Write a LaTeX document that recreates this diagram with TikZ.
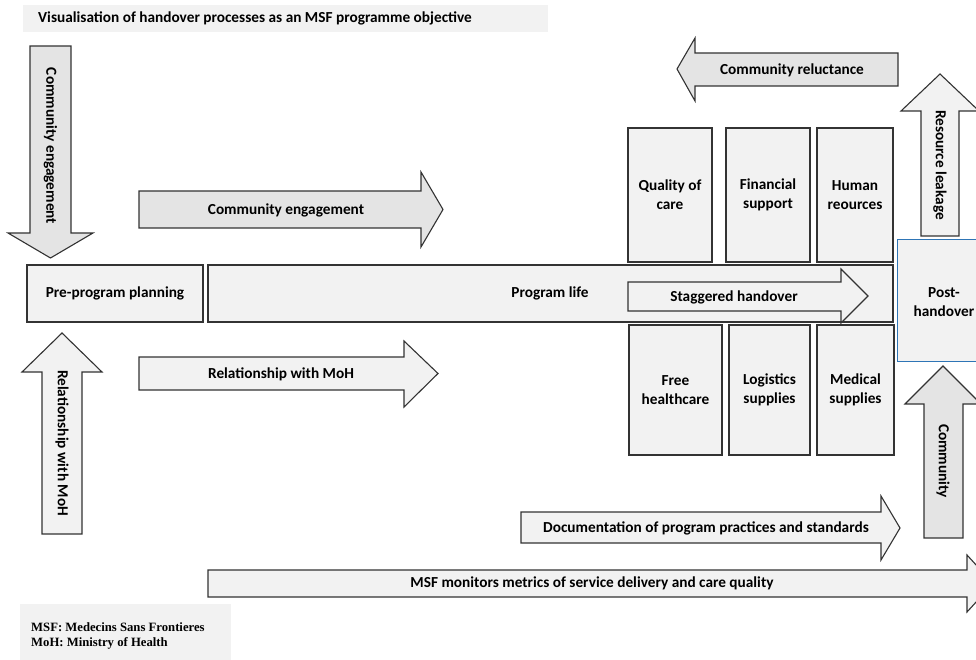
\documentclass[tikz,border=0pt]{standalone}
\usepackage{fontspec}
\setmainfont{Carlito}
\newfontfamily\legendfont{Liberation Serif}
\definecolor{lightfill}{HTML}{F2F2F2}
\definecolor{darkfill}{HTML}{E4E4E4}
\definecolor{edge}{HTML}{333333}
\definecolor{blueedge}{HTML}{2E75B6}
\tikzset{
  shp/.style={draw=edge, line width=1.1pt, line join=miter},
  lshp/.style={shp, fill=lightfill},
  dshp/.style={shp, fill=darkfill},
  lbl/.style={font=\bfseries\fontsize{15.3}{19}\selectfont, align=center, inner sep=0pt},
  boxnode/.style={lbl, lshp, inner sep=0pt},
}
\begin{document}
\begin{tikzpicture}[x=1pt,y=-1pt]
\useasboundingbox (0,0) rectangle (976,660);
\clip (0,0) rectangle (976,660);

% title
\fill[lightfill] (23,5) rectangle (548,32);
\node[lbl, anchor=west] (title) at (38,18.5) {Visualisation of handover processes as an MSF programme objective};

% vertical community engagement (down)
\draw[dshp] (30,46) -- (71,46) -- (71,233) -- (93,233) -- (50.5,258) -- (8,233) -- (30,233) -- cycle;
\node[lbl, rotate=-90] (ceV) at (50.5,146) {Community engagement};

% horizontal community engagement
\draw[dshp] (139,191) -- (421,191) -- (421,172) -- (443,209.5) -- (421,247) -- (421,228) -- (139,228) -- cycle;
\node[lbl] (ceH) at (286,210) {Community engagement};

% pre-program planning and program life
\node[boxnode, minimum width=176pt, minimum height=57pt] (pre) at (115,293.5) {Pre-program planning};
\node[lshp, minimum width=685pt, minimum height=57pt] (life) at (550.5,293.5) {};
\node[lbl] (lifetxt) at (550,293.5) {Program life};

% staggered handover
\draw[lshp] (628,282) -- (841,282) -- (841,269) -- (868,296) -- (841,323) -- (841,311) -- (628,311) -- cycle;
\node[lbl] (stag) at (734,297) {Staggered handover};

% upper boxes
\node[boxnode, minimum width=84pt, minimum height=134pt] (qoc) at (670,195) {Quality of\\care};
\node[boxnode, minimum width=84pt, minimum height=134pt] (fin) at (768,195) {Financial\\support};
\node[boxnode, minimum width=76pt, minimum height=134pt] (hr) at (855,195) {Human\\reources};

% lower boxes
\node[boxnode, minimum width=93pt, minimum height=130pt] (free) at (675.5,390) {Free\\healthcare};
\node[boxnode, minimum width=81pt, minimum height=130pt] (logi) at (769.5,390) {Logistics\\supplies};
\node[boxnode, minimum width=77pt, minimum height=130pt] (med) at (855.5,390) {Medical\\supplies};

% community reluctance (left)
\draw[dshp] (898,53) -- (695,53) -- (695,38) -- (677,69) -- (695,101) -- (695,86) -- (898,86) -- cycle;
\node[lbl] (reluct) at (792,70) {Community reluctance};

% resource leakage (up)
\draw[lshp] (921,236) -- (921,111) -- (901,111) -- (940,74) -- (979,111) -- (959,111) -- (959,236) -- cycle;
\node[lbl, rotate=-90] (leak) at (940,165) {Resource leakage};

% post-handover
\node[draw=blueedge, line width=1.2pt, fill=lightfill, minimum width=84pt, minimum height=122pt, inner sep=0pt, anchor=north west] (post) at (897,239) {};
\node[lbl] (posttxt) at (944,302) {Post-\\handover};

% community (up)
\draw[dshp] (924,538) -- (924,404) -- (905,404) -- (943,366) -- (981,404) -- (963,404) -- (963,538) -- cycle;
\node[lbl, rotate=-90] (comm) at (943,461) {Community};

% relationship with MoH (up)
\draw[lshp] (42,534) -- (42,372) -- (22,372) -- (62,333) -- (102,372) -- (82,372) -- (82,534) -- cycle;
\node[lbl, rotate=-90] (relV) at (62,443) {Relationship with MoH};

% relationship with MoH (right)
\draw[lshp] (139,357) -- (404,357) -- (404,341) -- (438,373.5) -- (404,407) -- (404,390) -- (139,390) -- cycle;
\node[lbl] (relH) at (281,374) {Relationship with MoH};

% documentation
\draw[lshp] (521,512) -- (881,512) -- (881,496) -- (900,528) -- (881,560) -- (881,543) -- (521,543) -- cycle;
\node[lbl] (doc) at (706,528) {Documentation of program practices and standards};

% MSF monitors
\draw[lshp] (208,570) -- (967,570) -- (967,555) -- (993,583.5) -- (967,612) -- (967,597) -- (208,597) -- cycle;
\node[lbl] (mon) at (592,583.5) {MSF monitors metrics of service delivery and care quality};

% legend
\fill[lightfill] (20,604) rectangle (231,660);
\node[anchor=north west, align=left, inner sep=0pt, font=\legendfont\bfseries\fontsize{12.7}{15}\selectfont] (legend) at (31,622)
  {MSF: Medecins Sans Frontieres\\MoH: Ministry of Health};
\end{tikzpicture}
\end{document}
